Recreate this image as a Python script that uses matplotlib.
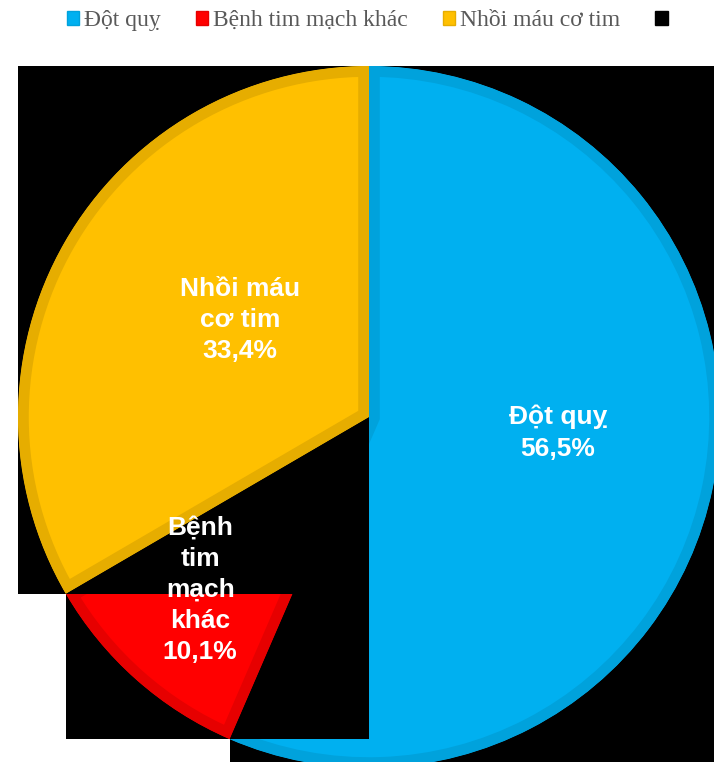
import matplotlib
matplotlib.use("Agg")
from matplotlib import pyplot as plt
from matplotlib.patches import Patch, Rectangle

# data
names = ["Đột quỵ", "Bệnh tim mạch khác", "Nhồi máu cơ tim", ""]
values = [56.5, 10.1, 33.4]
pct_text = ["56,5%", "10,1%", "33,4%"]
slice_labels = ["Đột quỵ", "Bệnh\ntim\nmạch\nkhác", "Nhồi máu\ncơ tim"]

fills = ["#00B0F0", "#FF0000", "#FFC000", "#000000"]
edges = ["#00A2DC", "#E60000", "#E6AD00", "#000000"]
label_pos = [(0.538, -0.045), (-0.481, -0.493), (-0.368, 0.276)]

fig = plt.figure(figsize=(7.14, 7.62), dpi=100)
ax = fig.add_axes([18 / 714, -6 / 762, 702 / 714, 702 / 762])

wedges, _ = ax.pie(values, colors=fills[:3], startangle=90, counterclock=False,
                   radius=1, wedgeprops=dict(linewidth=15.5))

for i, w in enumerate(wedges):
    w.set_edgecolor(edges[i])
    w.set_clip_on(True)
    w.set_clip_path(w)  # keep only the inner half of the border
    w.set_zorder(2 + 2 * i)
    ext = w.get_path().transformed(w.get_patch_transform()).get_extents()
    ax.add_patch(Rectangle((ext.x0, ext.y0), ext.width, ext.height,
                           facecolor="black", edgecolor="none", zorder=1 + 2 * i,
                           clip_on=False))

for i in range(3):
    ax.text(label_pos[i][0], label_pos[i][1], slice_labels[i] + "\n" + pct_text[i],
            ha="center", va="center", color="white", fontsize=19, fontweight="bold",
            family=["Liberation Sans", "DejaVu Sans"], linespacing=1.38, zorder=20)

ax.set_xlim(-1, 1)
ax.set_ylim(-1, 1)
ax.set_aspect("equal")
ax.axis("off")

handles = [Patch(facecolor=fills[i], edgecolor=edges[i], linewidth=1) for i in range(4)]
fig.legend(handles, names, loc="center", bbox_to_anchor=(0.5175, 0.973), ncol=4,
           frameon=False, handlelength=0.52, handleheight=0.52, handletextpad=0.2,
           columnspacing=1.5, borderaxespad=0,
           prop={"family": ["Liberation Serif", "DejaVu Serif"], "size": 17},
           labelcolor="#595959")

fig.savefig("out.png", dpi=100)
